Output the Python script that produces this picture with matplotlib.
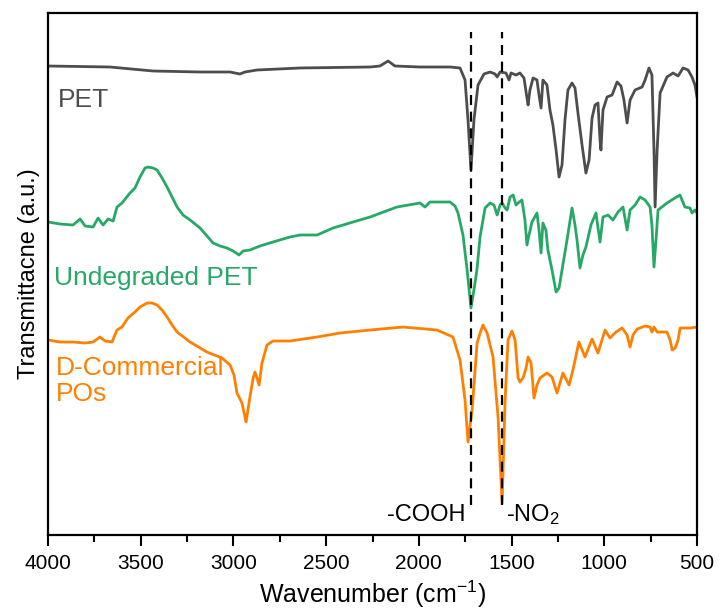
import matplotlib
matplotlib.use("Agg")
import matplotlib.pyplot as plt
from matplotlib.ticker import MultipleLocator
from matplotlib import font_manager

# FTIR spectra (wavenumber in cm-1, transmittance in a.u., vertically offset)
pet_wn = [4000, 3666, 3434, 3180, 3018, 2965, 2938, 2873, 2641, 2263, 2210, 2166, 2129,
          1994, 1832, 1778, 1751, 1735, 1719, 1703, 1681, 1649, 1616, 1589, 1578, 1562,
          1530, 1514, 1503, 1476, 1455, 1433, 1417, 1411, 1401, 1384, 1363, 1352, 1341,
          1331, 1309, 1293, 1277, 1260, 1244, 1228, 1212, 1196, 1174, 1158, 1142, 1120,
          1099, 1082, 1066, 1050, 1034, 1023, 1018, 1007, 985, 958, 931, 910, 894, 877,
          861, 834, 796, 780, 759, 743, 732, 726, 715, 699, 662, 629, 602, 575, 548, 527,
          511, 500]
pet_t = [4.69, 4.68, 4.64, 4.63, 4.63, 4.61, 4.63, 4.65, 4.67, 4.68, 4.69, 4.74, 4.69,
         4.68, 4.68, 4.67, 4.55, 4.15, 3.65, 4.15, 4.50, 4.61, 4.63, 4.61, 4.58, 4.63,
         4.62, 4.55, 4.62, 4.60, 4.62, 4.57, 4.37, 4.30, 4.45, 4.57, 4.55, 4.40, 4.27,
         4.55, 4.50, 4.25, 4.10, 3.85, 3.58, 3.70, 4.15, 4.45, 4.52, 4.47, 4.22, 3.90,
         3.62, 3.75, 4.17, 4.30, 4.32, 3.95, 3.85, 4.25, 4.38, 4.40, 4.53, 4.49, 4.35, 4.12,
         4.35, 4.45, 4.48, 4.55, 4.67, 4.60, 3.85, 3.28, 3.85, 4.42, 4.58, 4.62, 4.59, 4.67,
         4.65, 4.58, 4.50, 4.38]

undeg_wn = [4000, 3935, 3865, 3827, 3800, 3757, 3730, 3703, 3676, 3649, 3628, 3601, 3558,
            3531, 3504, 3477, 3461, 3434, 3412, 3385, 3358, 3331, 3304, 3272, 3234, 3180,
            3110, 3072, 3035, 3002, 2970, 2948, 2911, 2857, 2787, 2695, 2641, 2549, 2463,
            2355, 2263, 2118, 1994, 1967, 1940, 1886, 1832, 1805, 1789, 1762, 1741, 1719,
            1703, 1687, 1670, 1643, 1616, 1595, 1578, 1562, 1551, 1535, 1524, 1508, 1492,
            1476, 1465, 1444, 1428, 1417, 1406, 1390, 1363, 1352, 1341, 1331, 1315, 1304,
            1282, 1260, 1244, 1228, 1201, 1174, 1158, 1147, 1131, 1115, 1099, 1072, 1045,
            1023, 1007, 980, 953, 926, 899, 877, 861, 834, 807, 780, 753, 743, 732, 721,
            710, 662, 619, 592, 565, 538, 527, 511, 500]
undeg_t = [3.13, 3.11, 3.10, 3.16, 3.09, 3.08, 3.17, 3.10, 3.16, 3.14, 3.28, 3.32, 3.42,
           3.47, 3.58, 3.67, 3.68, 3.67, 3.65, 3.57, 3.48, 3.38, 3.28, 3.20, 3.15, 3.07,
           2.92, 2.89, 2.87, 2.84, 2.80, 2.84, 2.85, 2.89, 2.93, 2.98, 3.00, 3.00, 3.07,
           3.13, 3.18, 3.28, 3.32, 3.28, 3.33, 3.33, 3.33, 3.29, 3.22, 3.00, 2.67, 2.27,
           2.45, 2.65, 2.98, 3.27, 3.32, 3.30, 3.20, 3.30, 3.32, 3.27, 3.25, 3.38, 3.40,
           3.30, 3.32, 3.35, 3.15, 2.90, 3.00, 3.13, 3.22, 3.05, 2.82, 3.12, 3.05, 2.85,
           2.65, 2.43, 2.47, 2.65, 2.95, 3.27, 3.10, 2.95, 2.67, 2.80, 2.88, 3.10, 3.22,
           2.93, 3.18, 3.20, 3.15, 3.23, 3.28, 3.05, 3.25, 3.30, 3.38, 3.35, 3.28, 3.10,
           2.68, 2.95, 3.25, 3.32, 3.37, 3.40, 3.28, 3.27, 3.22, 3.25, 3.22]

pos_wn = [4000, 3935, 3865, 3800, 3757, 3720, 3692, 3655, 3628, 3601, 3569, 3531, 3504,
          3466, 3439, 3412, 3385, 3358, 3331, 3304, 3234, 3143, 3062, 3018, 2997, 2981,
          2954, 2932, 2911, 2894, 2884, 2873, 2862, 2846, 2819, 2787, 2695, 2549, 2425,
          2263, 2086, 1902, 1816, 1778, 1751, 1735, 1713, 1686, 1670, 1654, 1632, 1600,
          1573, 1551, 1535, 1519, 1498, 1481, 1465, 1455, 1438, 1422, 1411, 1395, 1379,
          1363, 1347, 1309, 1282, 1255, 1223, 1190, 1169, 1137, 1104, 1066, 1034, 996,
          969, 937, 904, 877, 861, 845, 823, 780, 753, 743, 732, 715, 662, 645, 634, 618,
          602, 591, 538, 500]
pos_t = [1.95, 1.93, 1.93, 1.92, 1.93, 1.98, 1.94, 1.93, 2.05, 2.08, 2.17, 2.23, 2.28,
         2.32, 2.32, 2.30, 2.25, 2.18, 2.10, 2.03, 1.93, 1.83, 1.77, 1.70, 1.60, 1.42,
         1.32, 1.13, 1.38, 1.57, 1.63, 1.57, 1.50, 1.72, 1.90, 1.94, 1.94, 1.98, 2.02,
         2.05, 2.08, 2.05, 1.98, 1.75, 1.35, 0.93, 1.25, 1.92, 2.02, 2.10, 2.02, 1.78,
         1.18, 0.32, 1.35, 1.95, 2.04, 1.95, 1.57, 1.53, 1.57, 1.67, 1.78, 1.72, 1.37,
         1.50, 1.57, 1.62, 1.58, 1.42, 1.62, 1.50, 1.65, 1.93, 1.78, 1.96, 1.82, 2.05,
         1.97, 2.03, 2.07, 2.00, 1.88, 2.00, 2.06, 2.09, 2.08, 2.03, 2.08, 2.03, 2.03, 1.95,
         1.85, 1.87, 1.95, 2.07, 2.07, 2.08]

band_wn = [1720, 1550]
band_labels = ["-COOH", "-NO$_2$"]

installed = {f.name for f in font_manager.fontManager.ttflist}
narrow = "Liberation Sans Narrow" if "Liberation Sans Narrow" in installed else "Liberation Sans"
plt.rcParams["font.family"] = ["Liberation Sans", "DejaVu Sans"]
plt.rcParams["mathtext.fontset"] = "custom"
plt.rcParams["mathtext.rm"] = "Liberation Sans"
plt.rcParams["mathtext.it"] = "Liberation Sans:italic"
plt.rcParams["mathtext.default"] = "regular"

fig = plt.figure(figsize=(7.19, 6.13), dpi=100)
ax = fig.add_axes([0.0668, 0.1272, 0.9026, 0.8516])

ax.plot(pet_wn, pet_t, color="#4D4D4D", lw=2.0)
ax.plot(undeg_wn, undeg_t, color="#26A866", lw=2.0)
ax.plot(pos_wn, pos_t, color="#FF8000", lw=2.0)

for w in band_wn:
    ax.plot([w, w], [0.30, 5.03], color="black", lw=1.6, ls=(0, (4.5, 3)))

ax.text(1750, 0.20, band_labels[0], fontsize=17, ha="right", va="center")
ax.text(1530, 0.20, band_labels[1], fontsize=17, ha="left", va="center")

ax.text(3945, 4.35, "PET", fontsize=19, color="#4D4D4D", va="center")
ax.text(3970, 2.57, "Undegraded PET", fontsize=19, color="#26A866", va="center")
ax.text(3955, 1.54, "D-Commercial\nPOs", fontsize=19, color="#FF8000", va="center",
        linespacing=1.15)

ax.set_xlim(4000, 500)
ax.set_ylim(0, 5.22)
ax.set_yticks([])
ax.xaxis.set_major_locator(MultipleLocator(500))
ax.xaxis.set_minor_locator(MultipleLocator(250))
ax.tick_params(axis="x", which="major", direction="out", length=8, width=1.5,
               labelsize=15, pad=6)
ax.tick_params(axis="x", which="minor", direction="out", length=5, width=1.5)
for lab in ax.get_xticklabels():
    lab.set_family(narrow)
for s in ax.spines.values():
    s.set_linewidth(1.6)

ax.set_xlabel("Wavenumber (cm$^{-1}$)", fontsize=18, family=narrow, labelpad=4)
ax.set_ylabel("Transmittacne (a.u.)", fontsize=17, labelpad=6)

fig.savefig("out.png", dpi=100)
